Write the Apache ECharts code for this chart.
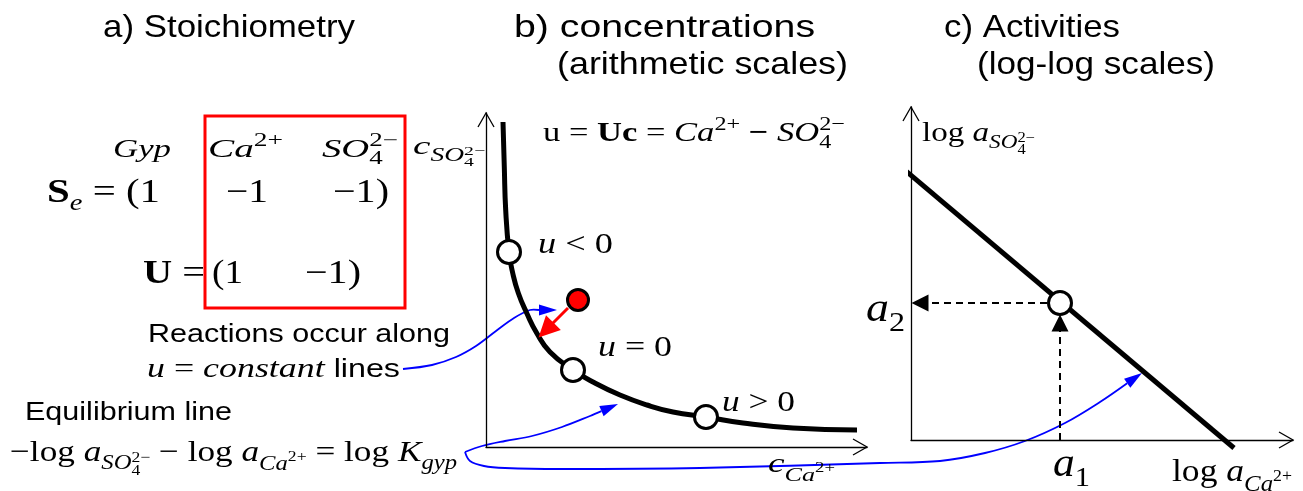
<!DOCTYPE html>
<html>
<head>
<meta charset="utf-8">
<script src="https://cdn.jsdelivr.net/npm/echarts@6/dist/echarts.min.js"></script>
<style>
  html, body { margin: 0; padding: 0; background: #fff; }
  #main { width: 1303px; height: 491px; }
</style>
</head>
<body>
<div id="main"></div>
<script>
// b) equilibrium curve, concentrations (axis units, read off the figure)
var curveCa  = [17, 18.3, 19.7, 23, 26.7, 32.3, 40.7, 50.7, 64, 87, 107, 134, 161, 187, 220, 257, 307, 371];
var curveSO4 = [325, 280, 237, 195, 174, 154, 134, 114, 95, 77, 65, 52, 42, 35, 30, 24, 19, 17];
// equilibrium points u<0, u=0, u>0
var eqCa  = [23, 87, 220];
var eqSO4 = [195, 77, 30];
// supersaturated point and its reaction path
var supCa  = [92];
var supSO4 = [147];
var reactCa  = [82, 60];
var reactSO4 = [139, 117];

// c) log-log equilibrium line and the point a1/a2
var logCa  = [-11, 323];
var logSO4 = [274, -8];
var a1 = 149;
var a2 = 137;

var chart = echarts.init(document.getElementById('main'));

function zip(a, b) { return a.map(function (v, i) { return [v, b[i]]; }); }

var ctx = document.createElement('canvas').getContext('2d');
function fontOf(face, s) {
  if (face === 'sans') return s + 'px "Liberation Sans"';
  return (face === 'it' ? 'italic ' : '') + (face === 'bf' ? 'bold ' : '') + s + 'px "Liberation Serif"';
}
// text with sub/superscripts: parts = [text, face, scale, dy(em), stacked]
function mtext(x0, x1, base, size, parts) {
  var kids = [], cx = 0, lastX = 0;
  parts.forEach(function (p) {
    var s = size * (p[2] || 1);
    var f = fontOf(p[1], s);
    ctx.font = f;
    var w = ctx.measureText(p[0]).width;
    var px = p[4] ? lastX : cx;
    kids.push({
      type: 'text', x: px, y: (p[3] || 0) * size - 0.3 * s,
      style: { text: p[0], font: f, fill: '#000', verticalAlign: 'middle', align: 'left' }
    });
    lastX = px;
    cx = Math.max(cx, px + w);
  });
  return { type: 'group', x: x0, y: base, scaleX: (x1 - x0) / cx, children: kids };
}

var SUP = ['rm', 0.7, -0.42], SUB = ['rm', 0.7, 0.25];
function sup(t) { return [t].concat(SUP); }
function sub(t) { return [t].concat(SUB); }
function supS(t) { return [t].concat(SUP).concat([1]); }
var so4sub = [['SO', 'it', 0.7, 0.25], ['4', 'rm', 0.5, 0.45], ['2−', 'rm', 0.5, 0.02, 1]];
var casub = [['Ca', 'it', 0.7, 0.3], ['2+', 'rm', 0.5, 0]];

var texts = [
  mtext(103, 355, 38, 32, [['a) Stoichiometry', 'sans']]),
  mtext(514, 815, 38, 32, [['b) concentrations', 'sans']]),
  mtext(557, 848, 75, 32, [['(arithmetic scales)', 'sans']]),
  mtext(944, 1120, 38, 32, [['c) Activities', 'sans']]),
  mtext(977, 1215, 75, 32, [['(log-log scales)', 'sans']]),

  mtext(113, 171, 158, 26, [['Gyp', 'it']]),
  mtext(208, 283, 158, 26, [['Ca', 'it'], sup('2+')]),
  mtext(322, 398, 158, 26, [['SO', 'it'], sub('4'), supS('2−')]),
  mtext(47, 160, 203, 33, [['S', 'bf'], ['e', 'it', 0.7, 0.25], [' = (1', 'rm']]),
  mtext(226, 268, 203, 33, [['−1', 'rm']]),
  mtext(333, 389, 203, 33, [['−1)', 'rm']]),
  mtext(143, 205, 284, 33, [['U', 'bf'], [' =', 'rm']]),
  mtext(212, 243, 284, 33, [['(1', 'rm']]),
  mtext(305, 361, 284, 33, [['−1)', 'rm']]),
  mtext(413, 485, 155, 26, [['c', 'it']].concat(so4sub)),

  mtext(148, 450, 343, 25, [['Reactions occur along', 'sans']]),
  mtext(147, 400, 378, 28, [['u', 'it'], [' = ', 'rm'], ['constant', 'it'], [' lines', 'sans', 0.9]]),
  mtext(25, 232, 421, 25, [['Equilibrium line', 'sans']]),
  mtext(10, 457, 462, 30, [['−log ', 'rm'], ['a', 'it']].concat(so4sub,
    [[' − log ', 'rm'], ['a', 'it']], casub,
    [[' = log ', 'rm'], ['K', 'it'], ['gyp', 'it', 0.7, 0.25]])),

  mtext(543, 845, 142, 28, [['u = ', 'rm'], ['Uc', 'bf'], [' = ', 'rm'], ['Ca', 'it'], sup('2+'),
    [' − ', 'bf'], ['SO', 'it'], sub('4'), supS('2−')]),
  mtext(538, 613, 254, 30, [['u', 'it'], [' < 0', 'rm']]),
  mtext(598, 672, 357, 30, [['u', 'it'], [' = 0', 'rm']]),
  mtext(722, 795, 412, 30, [['u', 'it'], [' > 0', 'rm']]),
  mtext(768, 835, 473, 28, [['c', 'it']].concat(casub)),

  mtext(922, 1035, 142, 28, [['log ', 'rm'], ['a', 'it']].concat(so4sub)),
  mtext(866, 905, 322, 40, [['a', 'it'], sub('2')]),
  mtext(1053, 1090, 477, 40, [['a', 'it'], sub('1')]),
  mtext(1172, 1292, 482, 32, [['log ', 'rm'], ['a', 'it']].concat(casub))
];

// open chevron arrowheads at the axis ends
function chevron(tx, ty, dir) {
  var L = 14, H = 8, pts;
  if (dir === 'up') pts = [[tx - H, ty + L], [tx, ty], [tx + H, ty + L]];
  else pts = [[tx - L, ty - H], [tx, ty], [tx - L, ty + H]];
  return { type: 'polyline', shape: { points: pts }, style: { stroke: '#000', lineWidth: 1.3, fill: 'none' } };
}

// blue annotation arrows
function blueArrow(pts, tip, hl, hw) {
  var last = pts[pts.length - 1];
  var dx = tip[0] - last[0], dy = tip[1] - last[1], L = Math.sqrt(dx * dx + dy * dy);
  var ux = dx / L, uy = dy / L;
  var bx = tip[0] - ux * hl, by = tip[1] - uy * hl;
  return [
    { type: 'polyline', shape: { points: pts.concat([[bx, by]]), smooth: 0.35 },
      style: { stroke: '#0000ff', lineWidth: 1.8, fill: 'none' } },
    { type: 'polygon', shape: { points: [tip, [bx - uy * hw / 2, by + ux * hw / 2], [bx + uy * hw / 2, by - ux * hw / 2]] },
      style: { fill: '#0000ff' } }
  ];
}

var graphics = [
  { type: 'rect', shape: { x: 205, y: 116, width: 200, height: 192 },
    style: { stroke: '#ff0000', lineWidth: 3, fill: 'none' } },
  chevron(486, 113, 'up'), chevron(867, 447, 'right'),
  chevron(911, 107, 'up'), chevron(1293, 440, 'right')
].concat(
  blueArrow([[403, 369], [432, 365], [456, 357], [476, 346], [496, 331], [514, 318], [530, 310]], [557, 310], 18, 11),
  blueArrow([[465, 452], [482, 446], [505, 441], [532, 436], [562, 427], [590, 416]], [618, 404], 18, 11),
  blueArrow([[465, 452], [470, 461], [484, 466], [505, 468], [560, 469], [700, 468], [880, 463],
    [940, 461], [985, 453], [1025, 441], [1065, 423], [1100, 402]], [1142, 373], 18, 11),
  texts
);

var axisCommon = {
  type: 'value', min: 0,
  axisLine: { show: true, lineStyle: { color: '#000', width: 1.3 } },
  axisTick: { show: false }, axisLabel: { show: false }, splitLine: { show: false }
};

var option = {
  animation: false,
  grid: [
    { left: 486, top: 113, width: 381, height: 334 },
    { left: 911, top: 107, width: 382, height: 333 }
  ],
  xAxis: [
    Object.assign({}, axisCommon, { gridIndex: 0, max: 381 }),
    Object.assign({}, axisCommon, { gridIndex: 1, max: 382 })
  ],
  yAxis: [
    Object.assign({}, axisCommon, { gridIndex: 0, max: 334 }),
    Object.assign({}, axisCommon, { gridIndex: 1, max: 333 })
  ],
  series: [
    { type: 'line', xAxisIndex: 0, yAxisIndex: 0, data: zip(curveCa, curveSO4),
      smooth: 0.5, symbol: 'none', lineStyle: { color: '#000', width: 5 } },
    { type: 'lines', coordinateSystem: 'cartesian2d', xAxisIndex: 0, yAxisIndex: 0,
      data: [{ coords: zip(reactCa, reactSO4) }], symbol: ['none', 'triangle'], symbolSize: [18, 21],
      lineStyle: { color: '#ff0000', width: 3, opacity: 1 }, z: 4 },
    { type: 'scatter', xAxisIndex: 0, yAxisIndex: 0, data: zip(eqCa, eqSO4), symbolSize: 23,
      itemStyle: { color: '#fff', borderColor: '#000', borderWidth: 3, opacity: 1 }, z: 5 },
    { type: 'scatter', xAxisIndex: 0, yAxisIndex: 0, data: zip(supCa, supSO4), symbolSize: 21,
      itemStyle: { color: '#ff0000', borderColor: '#000', borderWidth: 3, opacity: 1 }, z: 5 },

    { type: 'line', xAxisIndex: 1, yAxisIndex: 1, data: zip(logCa, logSO4), clip: false,
      symbol: 'none', lineStyle: { color: '#000', width: 5 } },
    { type: 'lines', coordinateSystem: 'cartesian2d', xAxisIndex: 1, yAxisIndex: 1,
      data: [{ coords: [[a1, 0], [a1, a2 - 20]] }, { coords: [[a1 - 13, a2], [9, a2]] }],
      symbol: ['none', 'triangle'], symbolSize: [12, 17],
      lineStyle: { color: '#000', width: 2, type: [7, 5], opacity: 1 }, z: 4 },
    { type: 'scatter', xAxisIndex: 1, yAxisIndex: 1, data: [[a1, a2]], symbolSize: 23,
      itemStyle: { color: '#fff', borderColor: '#000', borderWidth: 3, opacity: 1 }, z: 5 }
  ],
  graphic: graphics
};

chart.setOption(option);
</script>
</body>
</html>
